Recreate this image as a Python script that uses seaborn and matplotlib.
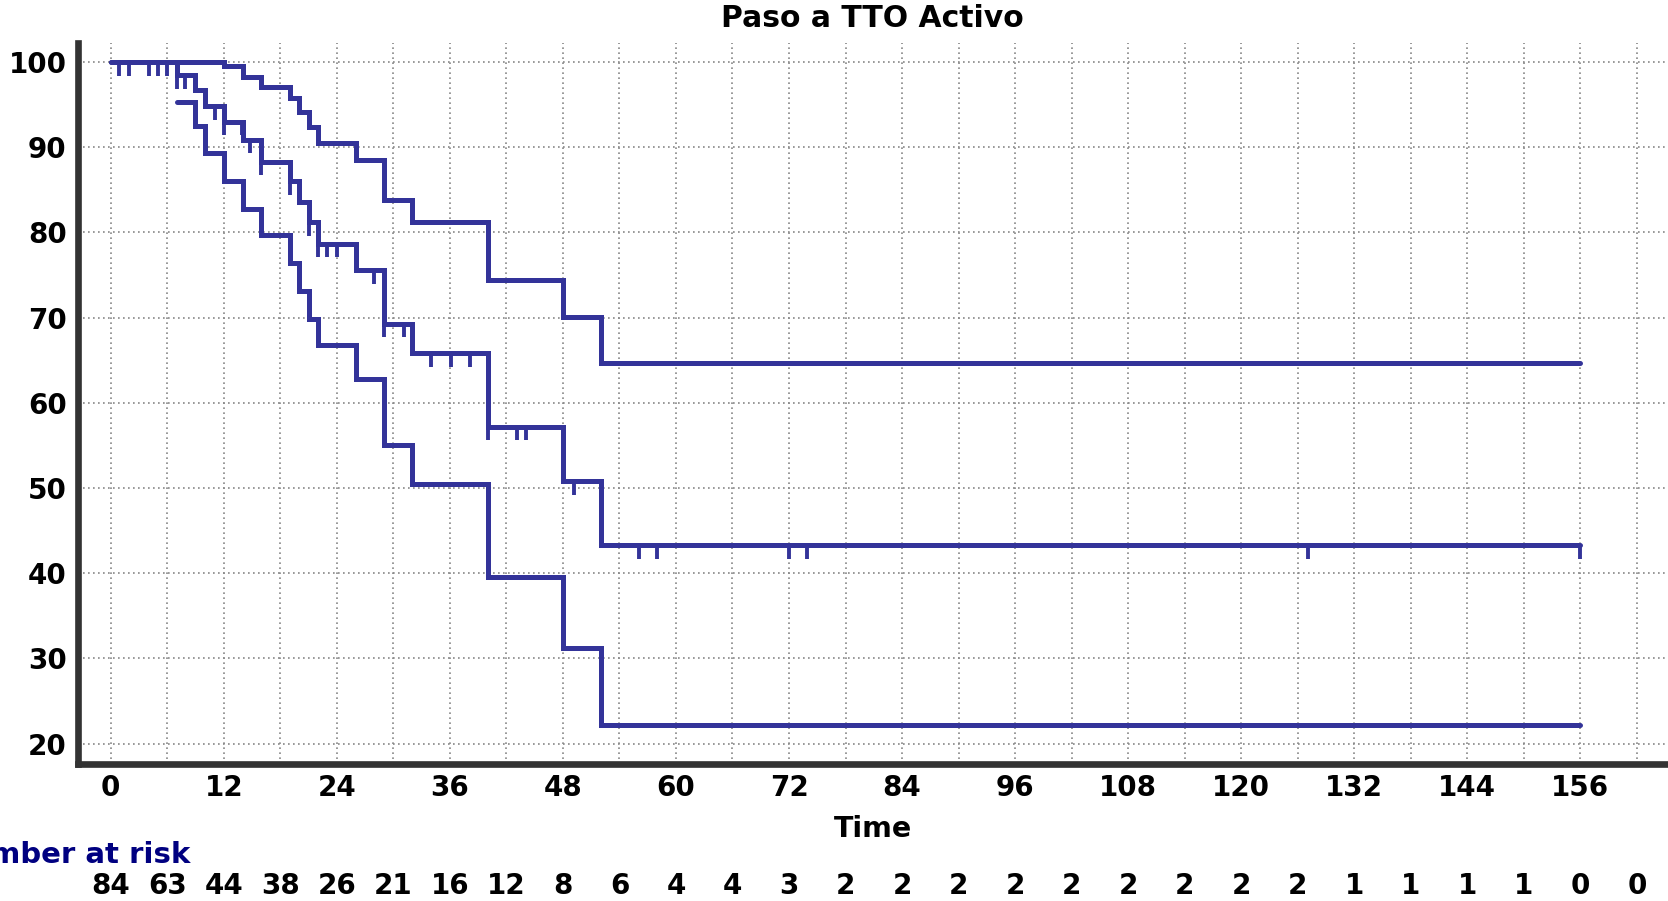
import numpy as np
import pandas as pd
import matplotlib
matplotlib.use("Agg")
import matplotlib.pyplot as plt
import matplotlib.transforms as mtransforms
from matplotlib.ticker import MultipleLocator, FixedLocator
import seaborn as sns

# Kaplan-Meier steps (months): estimate + 95% CI
event_t = [7, 9, 10, 12, 14, 16, 19, 20, 21, 22, 26, 29, 32, 40, 48, 52]
surv = [98.5, 96.7, 94.8, 93.0, 90.9, 88.3, 86.0, 83.6, 81.2, 78.7, 75.6, 69.3, 65.8, 57.2, 50.8, 43.3]
upper = [100, 100, 100, 99.6, 98.3, 97.1, 95.8, 94.1, 92.4, 90.5, 88.5, 83.8, 81.2, 74.4, 70.1, 64.7]
lower = [95.3, 92.5, 89.3, 86.0, 82.8, 79.7, 76.4, 73.1, 69.9, 66.8, 62.8, 55.0, 50.5, 39.6, 31.2, 22.2]
t_end = 156

# censored observations (tick marks on the estimate)
censor_t = [0.9, 1.9, 4.1, 5.0, 6.0, 7.0, 7.9, 11.1, 12.0, 13.9, 14.8, 16.0, 19.0,
            21.0, 22.0, 23.0, 24.0, 27.9, 29.0, 31.1, 34.0, 36.1, 38.1, 40.0,
            43.1, 44.1, 49.2, 56.1, 58.0, 72.0, 73.9, 127.1, 156.0]

# number at risk
risk_t = list(range(0, 163, 6))
at_risk = [84, 63, 44, 38, 26, 21, 16, 12, 8, 6, 4, 4, 3, 2, 2, 2, 2, 2, 2, 2,
           2, 2, 1, 1, 1, 1, 0, 0]

blue = "#333399"
dark = "#333333"

sns.set_style("white")
plt.rcParams["font.family"] = ["DejaVu Sans"]
plt.rcParams["font.weight"] = "bold"
plt.rcParams["text.color"] = "black"
plt.rcParams["xtick.labelcolor"] = "black"
plt.rcParams["ytick.labelcolor"] = "black"

km = pd.DataFrame({"time": [0] + event_t + [t_end], "value": [100] + surv + [surv[-1]]})
up = pd.DataFrame({"time": [0] + event_t + [t_end], "value": [100] + upper + [upper[-1]]})
lo = pd.DataFrame({"time": event_t + [t_end], "value": lower + [lower[-1]]})

fig = plt.figure(figsize=(16.68, 9.01), dpi=100)
ax = fig.add_axes([0.0466, 0.152, 0.9534, 0.8008])

for d in (up, lo, km):
    sns.lineplot(data=d, x="time", y="value", ax=ax, color=blue, lw=3.6,
                 estimator=None, drawstyle="steps-post", solid_joinstyle="miter")

# censor marks hang down from the estimate
km_t = km["time"].to_numpy()
km_v = km["value"].to_numpy()
idx = np.searchsorted(km_t, censor_t, side="right") - 1
lev = km_v[idx]
ax.vlines(censor_t, lev - 1.6, lev, color=blue, lw=2.8)

ax.set_xlim(-3.5, 165.3)
ax.set_ylim(17.6, 102.3)

ax.xaxis.set_major_locator(FixedLocator(risk_t))
ax.set_xticklabels([str(t) if t % 12 == 0 else "" for t in risk_t])
ax.yaxis.set_major_locator(MultipleLocator(10))
ax.yaxis.set_minor_locator(FixedLocator(np.arange(25, 100, 10)))

ax.grid(True, which="major", ls=(0, (1, 2)), color="#888888", lw=1.2)
ax.set_axisbelow(True)

for s in ("top", "right"):
    ax.spines[s].set_visible(False)
for s in ("left", "bottom"):
    ax.spines[s].set_linewidth(4.8)
    ax.spines[s].set_color(dark)

ax.tick_params(axis="x", direction="in", length=14, width=2.2, color=dark,
               labelsize=20, pad=7)
ax.tick_params(axis="y", which="major", direction="in", length=21, width=2.8,
               color=dark, labelsize=20, pad=8)
ax.tick_params(axis="y", which="minor", direction="in", length=12, width=2.8,
               color=dark)
ax.set_xlabel("")
ax.set_ylabel("")

cx = 0.0466 + 0.9534 / 2
fig.text(cx, 0.970, "Paso a TTO Activo", ha="center", va="baseline",
         fontsize=21.5, fontweight="bold")
fig.text(cx, 0.071, "Time", ha="center", va="baseline", fontsize=20.5,
         fontweight="bold")
# label runs off the left edge, as in the source picture
fig.text(0.1139, 0.042, "Number at risk", ha="right", va="baseline",
         fontsize=21, fontweight="bold", color="#000080")

trans = mtransforms.blended_transform_factory(ax.transData, fig.transFigure)
for t, n in zip(risk_t, at_risk):
    ax.text(t, 0.0075, str(n), transform=trans, ha="center", va="baseline",
            fontsize=20, fontweight="bold", clip_on=False)

fig.savefig("out.png", dpi=100)
